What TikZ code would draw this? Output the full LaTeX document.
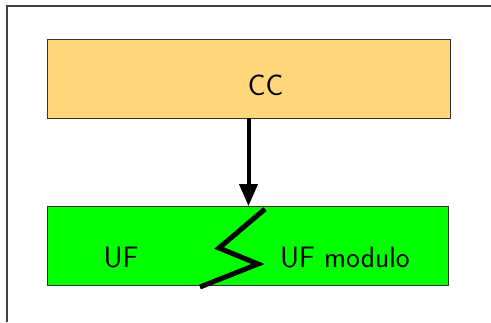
\documentclass[tikz,border=0pt]{standalone}
\usetikzlibrary{arrows.meta}
\definecolor{ccfill}{HTML}{FDD77A}
\definecolor{uffill}{HTML}{00FF00}
\begin{document}
\begin{tikzpicture}[x=1pt,y=-1pt,
  box/.style={draw=black!80,line width=1pt},
  lbl/.style={font=\sffamily\fontsize{29.5}{34}\selectfont,inner sep=0pt}]
\useasboundingbox (0,0) rectangle (491,322);
\draw[black!75,line width=1.5pt] (7,322) -- (7,6) -- (491,6);
\draw[box,fill=ccfill] (47,39) rectangle (450,118);
\draw[box,fill=uffill] (47,206) rectangle (448,285);
\coordinate (cctop) at (248.5,118);
\coordinate (uftop) at (248.5,206);
\node[lbl,anchor=base] (cc) at (265.5,95) {CC};
\node[lbl,anchor=base] (uf) at (121,267) {UF};
\node[lbl,anchor=base] (ufm) at (345,267) {UF modulo};
\draw[line width=4pt,-{Triangle[width=18pt,length=22pt]}] (cctop) -- (uftop);
\coordinate (z1) at (265,209);
\coordinate (z2) at (219,248);
\coordinate (z3) at (258,264);
\coordinate (z4) at (200,287);
\draw[line width=5pt] (z1) -- (z2) -- (z3) -- (z4);
\end{tikzpicture}
\end{document}
